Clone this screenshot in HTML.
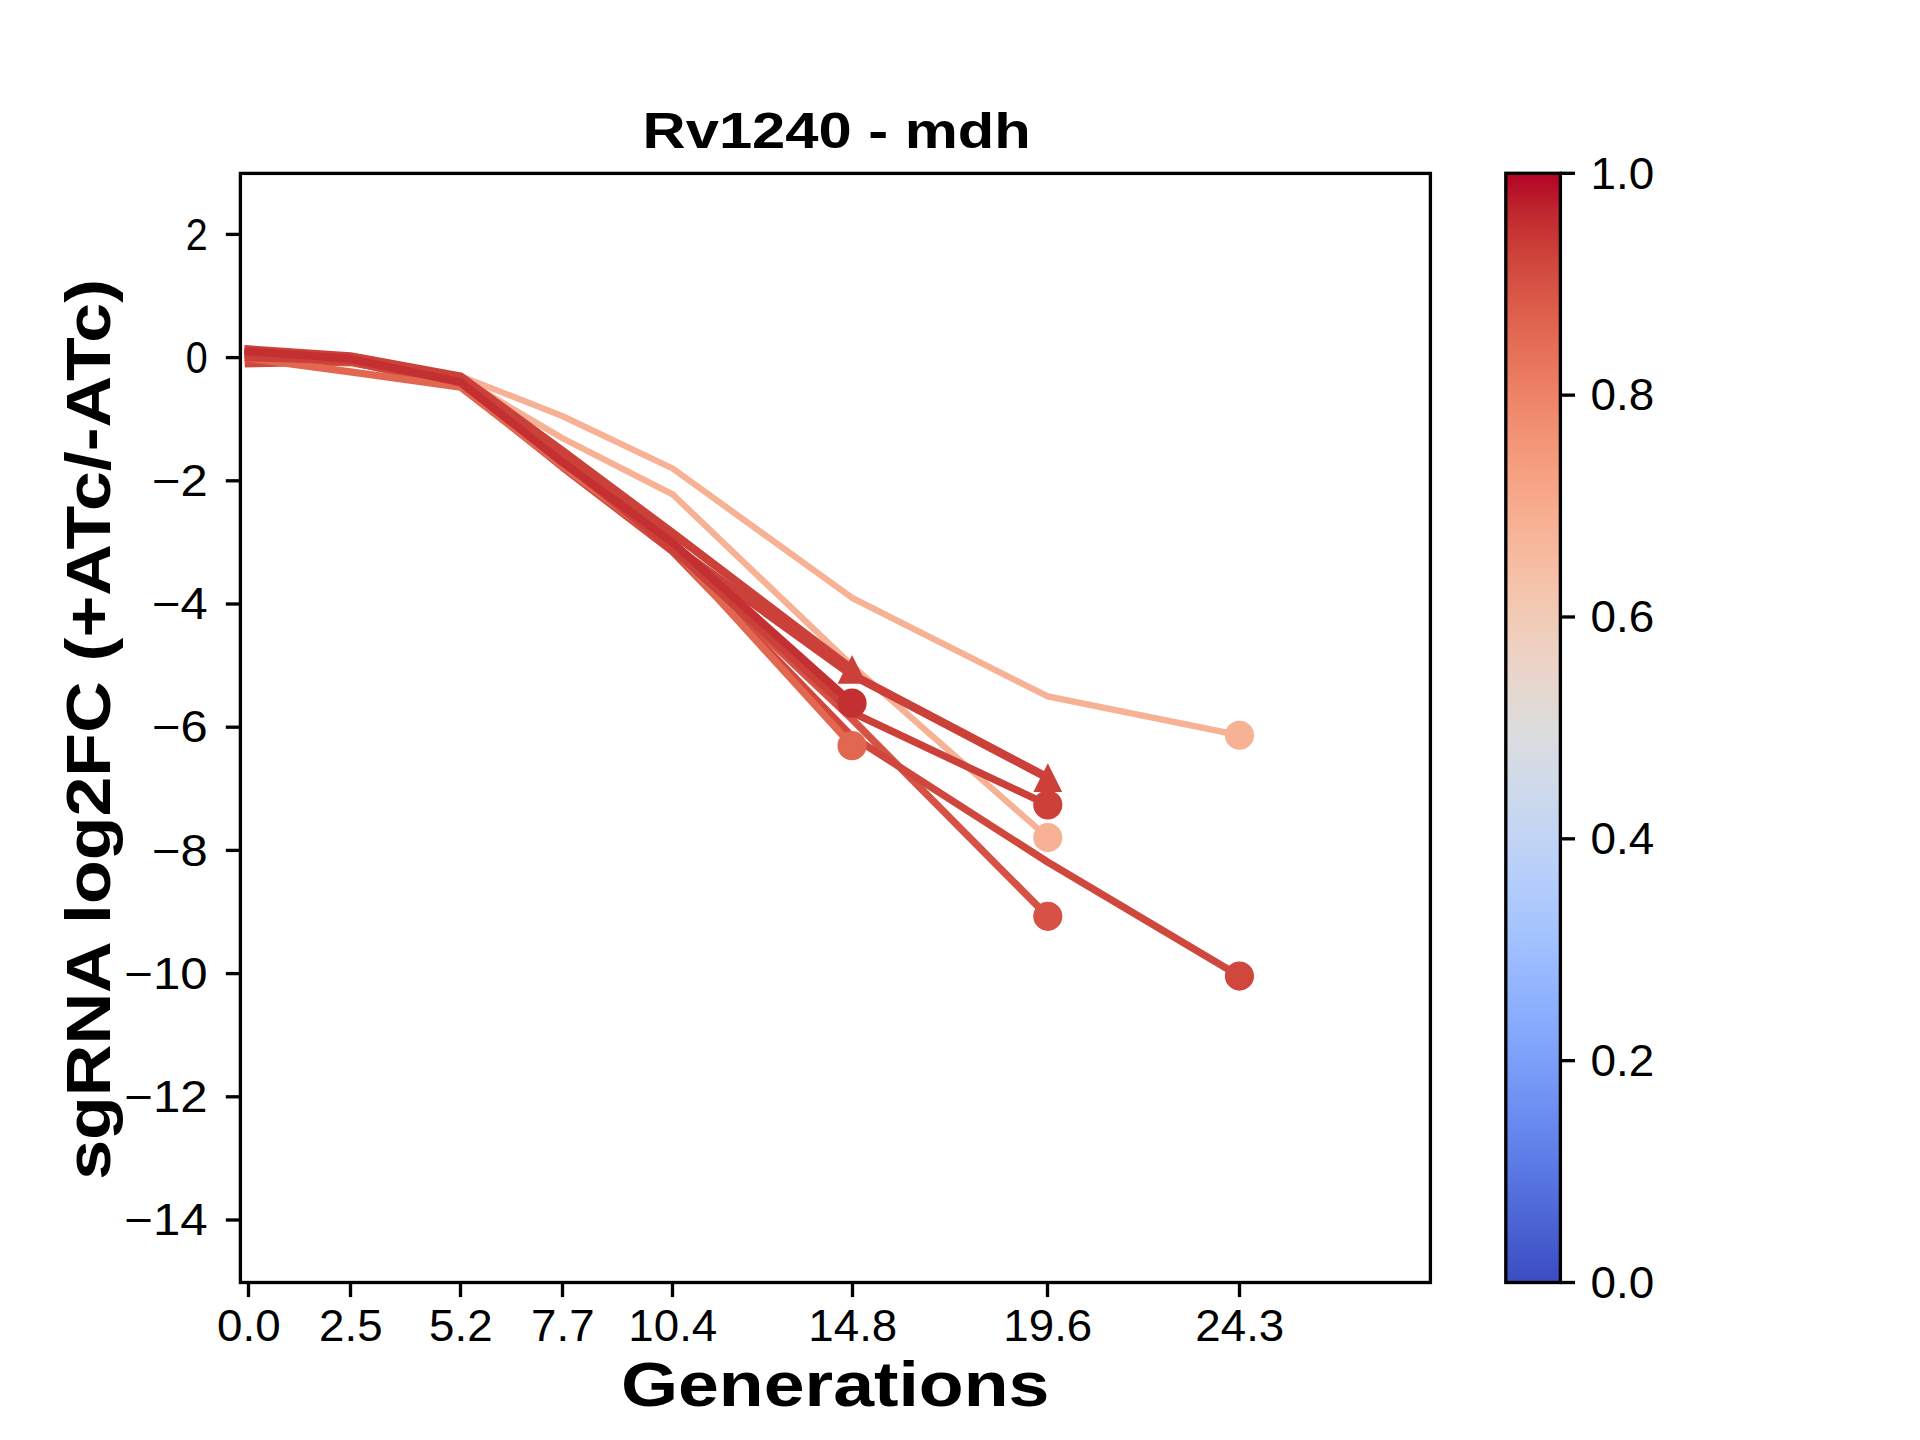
<!DOCTYPE html><html><head><meta charset="utf-8"><style>html,body{margin:0;padding:0;background:#fff;}svg{display:block;}text{font-family:"Liberation Sans",sans-serif;}</style></head><body>
<svg width="1920" height="1440" viewBox="0 0 1920 1440">
<rect x="0" y="0" width="1920" height="1440" fill="#ffffff"/>
<defs><linearGradient id="cw" x1="0" y1="1" x2="0" y2="0">
<stop offset="0.0000" stop-color="#3b4cc0"/>
<stop offset="0.0156" stop-color="#3f53c6"/>
<stop offset="0.0312" stop-color="#445acc"/>
<stop offset="0.0469" stop-color="#4961d2"/>
<stop offset="0.0625" stop-color="#4e68d8"/>
<stop offset="0.0781" stop-color="#536edd"/>
<stop offset="0.0938" stop-color="#5875e1"/>
<stop offset="0.1094" stop-color="#5d7ce6"/>
<stop offset="0.1250" stop-color="#6282ea"/>
<stop offset="0.1406" stop-color="#6788ee"/>
<stop offset="0.1562" stop-color="#6c8ff1"/>
<stop offset="0.1719" stop-color="#7295f4"/>
<stop offset="0.1875" stop-color="#779af7"/>
<stop offset="0.2031" stop-color="#7da0f9"/>
<stop offset="0.2188" stop-color="#82a6fb"/>
<stop offset="0.2344" stop-color="#88abfd"/>
<stop offset="0.2500" stop-color="#8db0fe"/>
<stop offset="0.2656" stop-color="#93b5fe"/>
<stop offset="0.2812" stop-color="#98b9ff"/>
<stop offset="0.2969" stop-color="#9ebeff"/>
<stop offset="0.3125" stop-color="#a3c2fe"/>
<stop offset="0.3281" stop-color="#a9c6fd"/>
<stop offset="0.3438" stop-color="#aec9fc"/>
<stop offset="0.3594" stop-color="#b3cdfb"/>
<stop offset="0.3750" stop-color="#b9d0f9"/>
<stop offset="0.3906" stop-color="#bed2f6"/>
<stop offset="0.4062" stop-color="#c3d5f4"/>
<stop offset="0.4219" stop-color="#c7d7f0"/>
<stop offset="0.4375" stop-color="#ccd9ed"/>
<stop offset="0.4531" stop-color="#d1dae9"/>
<stop offset="0.4688" stop-color="#d5dbe5"/>
<stop offset="0.4844" stop-color="#d9dce1"/>
<stop offset="0.5000" stop-color="#dddcdc"/>
<stop offset="0.5156" stop-color="#e1dad6"/>
<stop offset="0.5312" stop-color="#e5d8d1"/>
<stop offset="0.5469" stop-color="#e9d5cb"/>
<stop offset="0.5625" stop-color="#ecd3c5"/>
<stop offset="0.5781" stop-color="#efcfbf"/>
<stop offset="0.5938" stop-color="#f1ccb8"/>
<stop offset="0.6094" stop-color="#f3c8b2"/>
<stop offset="0.6250" stop-color="#f5c4ac"/>
<stop offset="0.6406" stop-color="#f6bfa6"/>
<stop offset="0.6562" stop-color="#f7ba9f"/>
<stop offset="0.6719" stop-color="#f7b599"/>
<stop offset="0.6875" stop-color="#f7b093"/>
<stop offset="0.7031" stop-color="#f7aa8c"/>
<stop offset="0.7188" stop-color="#f6a586"/>
<stop offset="0.7344" stop-color="#f59f80"/>
<stop offset="0.7500" stop-color="#f4987a"/>
<stop offset="0.7656" stop-color="#f29274"/>
<stop offset="0.7812" stop-color="#f08b6e"/>
<stop offset="0.7969" stop-color="#ee8468"/>
<stop offset="0.8125" stop-color="#eb7d62"/>
<stop offset="0.8281" stop-color="#e8765c"/>
<stop offset="0.8438" stop-color="#e46e56"/>
<stop offset="0.8594" stop-color="#e16751"/>
<stop offset="0.8750" stop-color="#dd5f4b"/>
<stop offset="0.8906" stop-color="#d85646"/>
<stop offset="0.9062" stop-color="#d44e41"/>
<stop offset="0.9219" stop-color="#cf453c"/>
<stop offset="0.9375" stop-color="#ca3b37"/>
<stop offset="0.9531" stop-color="#c43032"/>
<stop offset="0.9688" stop-color="#be242e"/>
<stop offset="0.9844" stop-color="#b8122a"/>
<stop offset="1.0000" stop-color="#b40426"/>
</linearGradient><clipPath id="axclip"><rect x="240.00" y="172.80" width="1190.40" height="1108.80"/></clipPath></defs>
<g clip-path="url(#axclip)">
<polyline points="248.50,357.60 350.45,360.68 460.56,376.08 562.51,416.12 672.61,468.48 852.04,597.84 1047.79,696.40 1239.45,735.21" fill="none" stroke="#f7b194" stroke-width="6.25" stroke-linecap="square" stroke-linejoin="round"/>
<circle cx="1239.45" cy="735.21" r="12.50" fill="#f7b194" stroke="#f7b194" stroke-width="4.17"/>
<polyline points="248.50,357.60 350.45,363.76 460.56,377.93 562.51,438.30 672.61,494.35 852.04,665.60 1047.79,837.46" fill="none" stroke="#f7b194" stroke-width="6.25" stroke-linecap="square" stroke-linejoin="round"/>
<circle cx="1047.79" cy="837.46" r="12.50" fill="#f7b194" stroke="#f7b194" stroke-width="4.17"/>
<polyline points="248.50,362.53 350.45,361.91 460.56,385.32 562.51,465.40 672.61,549.79 852.04,719.19 1047.79,916.31" fill="none" stroke="#d65244" stroke-width="7.30" stroke-linecap="square" stroke-linejoin="round"/>
<circle cx="1047.79" cy="916.31" r="12.50" fill="#d65244" stroke="#d65244" stroke-width="4.17"/>
<polyline points="248.50,363.76 350.45,361.91 460.56,385.32 562.51,467.25 672.61,551.64 852.04,736.44 1047.79,862.10 1239.45,976.06" fill="none" stroke="#d0473d" stroke-width="7.30" stroke-linecap="square" stroke-linejoin="round"/>
<circle cx="1239.45" cy="976.06" r="12.50" fill="#d0473d" stroke="#d0473d" stroke-width="4.17"/>
<polyline points="248.50,358.22 350.45,371.77 460.56,387.17 562.51,466.02 672.61,548.56 852.04,745.68" fill="none" stroke="#e16751" stroke-width="7.30" stroke-linecap="square" stroke-linejoin="round"/>
<circle cx="852.04" cy="745.68" r="12.50" fill="#e16751" stroke="#e16751" stroke-width="4.17"/>
<polyline points="248.50,357.60 350.45,360.68 460.56,381.01 562.51,461.09 672.61,549.79 852.04,712.42 1047.79,804.82" fill="none" stroke="#cc403a" stroke-width="7.30" stroke-linecap="square" stroke-linejoin="round"/>
<circle cx="1047.79" cy="804.82" r="12.50" fill="#cc403a" stroke="#cc403a" stroke-width="4.17"/>
<polyline points="248.50,354.52 350.45,357.60 460.56,377.93 562.51,454.93 672.61,545.48 852.04,674.84 1047.79,777.71" fill="none" stroke="#cc403a" stroke-width="8.50" stroke-linecap="square" stroke-linejoin="round"/>
<polygon points="1047.79,763.31 1033.39,792.11 1062.19,792.11" fill="#cc403a"/>
<polyline points="248.50,349.59 350.45,356.37 460.56,376.70 562.51,451.23 672.61,533.16 852.04,669.30" fill="none" stroke="#cc403a" stroke-width="8.50" stroke-linecap="square" stroke-linejoin="round"/>
<polygon points="852.04,654.90 837.64,683.70 866.44,683.70" fill="#cc403a"/>
<polyline points="248.50,351.44 350.45,358.83 460.56,382.24 562.51,462.32 672.61,542.40 852.04,703.18" fill="none" stroke="#c43032" stroke-width="8.00" stroke-linecap="square" stroke-linejoin="round"/>
<circle cx="852.04" cy="703.18" r="12.50" fill="#c43032" stroke="#c43032" stroke-width="4.17"/>
</g>
<rect x="240.40" y="173.40" width="1190.00" height="1109.10" fill="none" stroke="#000" stroke-width="3.33" stroke-linejoin="miter"/>
<line x1="248.50" y1="1282.50" x2="248.50" y2="1297.08" stroke="#000" stroke-width="3.33"/>
<text x="248.80" y="1341.00" font-size="43.50" text-anchor="middle" textLength="63.49" lengthAdjust="spacingAndGlyphs">0.0</text>
<line x1="350.50" y1="1282.50" x2="350.50" y2="1297.08" stroke="#000" stroke-width="3.33"/>
<text x="350.80" y="1341.00" font-size="43.50" text-anchor="middle" textLength="63.49" lengthAdjust="spacingAndGlyphs">2.5</text>
<line x1="460.50" y1="1282.50" x2="460.50" y2="1297.08" stroke="#000" stroke-width="3.33"/>
<text x="460.80" y="1341.00" font-size="43.50" text-anchor="middle" textLength="63.49" lengthAdjust="spacingAndGlyphs">5.2</text>
<line x1="562.50" y1="1282.50" x2="562.50" y2="1297.08" stroke="#000" stroke-width="3.33"/>
<text x="562.80" y="1341.00" font-size="43.50" text-anchor="middle" textLength="63.49" lengthAdjust="spacingAndGlyphs">7.7</text>
<line x1="672.50" y1="1282.50" x2="672.50" y2="1297.08" stroke="#000" stroke-width="3.33"/>
<text x="672.80" y="1341.00" font-size="43.50" text-anchor="middle" textLength="88.88" lengthAdjust="spacingAndGlyphs">10.4</text>
<line x1="852.50" y1="1282.50" x2="852.50" y2="1297.08" stroke="#000" stroke-width="3.33"/>
<text x="852.80" y="1341.00" font-size="43.50" text-anchor="middle" textLength="88.88" lengthAdjust="spacingAndGlyphs">14.8</text>
<line x1="1047.50" y1="1282.50" x2="1047.50" y2="1297.08" stroke="#000" stroke-width="3.33"/>
<text x="1047.80" y="1341.00" font-size="43.50" text-anchor="middle" textLength="88.88" lengthAdjust="spacingAndGlyphs">19.6</text>
<line x1="1239.50" y1="1282.50" x2="1239.50" y2="1297.08" stroke="#000" stroke-width="3.33"/>
<text x="1239.80" y="1341.00" font-size="43.50" text-anchor="middle" textLength="88.88" lengthAdjust="spacingAndGlyphs">24.3</text>
<line x1="225.82" y1="234.40" x2="240.40" y2="234.40" stroke="#000" stroke-width="3.33"/>
<text x="207.60" y="249.60" font-size="43.50" text-anchor="end" textLength="21.94" lengthAdjust="spacingAndGlyphs">2</text>
<line x1="225.82" y1="357.60" x2="240.40" y2="357.60" stroke="#000" stroke-width="3.33"/>
<text x="207.60" y="372.80" font-size="43.50" text-anchor="end" textLength="21.94" lengthAdjust="spacingAndGlyphs">0</text>
<line x1="225.82" y1="480.80" x2="240.40" y2="480.80" stroke="#000" stroke-width="3.33"/>
<text x="207.60" y="496.00" font-size="43.50" text-anchor="end" textLength="55.69" lengthAdjust="spacingAndGlyphs">−2</text>
<line x1="225.82" y1="604.00" x2="240.40" y2="604.00" stroke="#000" stroke-width="3.33"/>
<text x="207.60" y="619.20" font-size="43.50" text-anchor="end" textLength="55.69" lengthAdjust="spacingAndGlyphs">−4</text>
<line x1="225.82" y1="727.20" x2="240.40" y2="727.20" stroke="#000" stroke-width="3.33"/>
<text x="207.60" y="742.40" font-size="43.50" text-anchor="end" textLength="55.69" lengthAdjust="spacingAndGlyphs">−6</text>
<line x1="225.82" y1="850.40" x2="240.40" y2="850.40" stroke="#000" stroke-width="3.33"/>
<text x="207.60" y="865.60" font-size="43.50" text-anchor="end" textLength="55.69" lengthAdjust="spacingAndGlyphs">−8</text>
<line x1="225.82" y1="973.60" x2="240.40" y2="973.60" stroke="#000" stroke-width="3.33"/>
<text x="207.60" y="988.80" font-size="43.50" text-anchor="end" textLength="83.37" lengthAdjust="spacingAndGlyphs">−10</text>
<line x1="225.82" y1="1096.80" x2="240.40" y2="1096.80" stroke="#000" stroke-width="3.33"/>
<text x="207.60" y="1112.00" font-size="43.50" text-anchor="end" textLength="83.37" lengthAdjust="spacingAndGlyphs">−12</text>
<line x1="225.82" y1="1220.00" x2="240.40" y2="1220.00" stroke="#000" stroke-width="3.33"/>
<text x="207.60" y="1235.20" font-size="43.50" text-anchor="end" textLength="83.37" lengthAdjust="spacingAndGlyphs">−14</text>
<rect x="1505.80" y="173.30" width="54.60" height="1109.20" fill="url(#cw)"/>
<rect x="1505.80" y="173.30" width="54.60" height="1109.20" fill="none" stroke="#000" stroke-width="3.33"/>
<line x1="1560.40" y1="1282.50" x2="1574.98" y2="1282.50" stroke="#000" stroke-width="3.33"/>
<text x="1590.50" y="1297.70" font-size="43.50" text-anchor="start" textLength="63.74" lengthAdjust="spacingAndGlyphs">0.0</text>
<line x1="1560.40" y1="1060.66" x2="1574.98" y2="1060.66" stroke="#000" stroke-width="3.33"/>
<text x="1590.50" y="1075.86" font-size="43.50" text-anchor="start" textLength="63.74" lengthAdjust="spacingAndGlyphs">0.2</text>
<line x1="1560.40" y1="838.82" x2="1574.98" y2="838.82" stroke="#000" stroke-width="3.33"/>
<text x="1590.50" y="854.02" font-size="43.50" text-anchor="start" textLength="63.74" lengthAdjust="spacingAndGlyphs">0.4</text>
<line x1="1560.40" y1="616.98" x2="1574.98" y2="616.98" stroke="#000" stroke-width="3.33"/>
<text x="1590.50" y="632.18" font-size="43.50" text-anchor="start" textLength="63.74" lengthAdjust="spacingAndGlyphs">0.6</text>
<line x1="1560.40" y1="395.14" x2="1574.98" y2="395.14" stroke="#000" stroke-width="3.33"/>
<text x="1590.50" y="410.34" font-size="43.50" text-anchor="start" textLength="63.74" lengthAdjust="spacingAndGlyphs">0.8</text>
<line x1="1560.40" y1="173.30" x2="1574.98" y2="173.30" stroke="#000" stroke-width="3.33"/>
<text x="1590.50" y="188.50" font-size="43.50" text-anchor="start" textLength="63.74" lengthAdjust="spacingAndGlyphs">1.0</text>
<text x="836.70" y="147.5" font-size="50" font-weight="bold" text-anchor="middle" textLength="388.20" lengthAdjust="spacingAndGlyphs">Rv1240 - mdh</text>
<text x="835.15" y="1405.5" font-size="63.50" font-weight="bold" text-anchor="middle" textLength="428.51" lengthAdjust="spacingAndGlyphs">Generations</text>
<text transform="translate(109.7,729.40) rotate(-90)" x="0" y="0" font-size="62.5" font-weight="bold" text-anchor="middle" textLength="900.88" lengthAdjust="spacingAndGlyphs">sgRNA log2FC (+ATc/-ATc)</text>
</svg></body></html>
